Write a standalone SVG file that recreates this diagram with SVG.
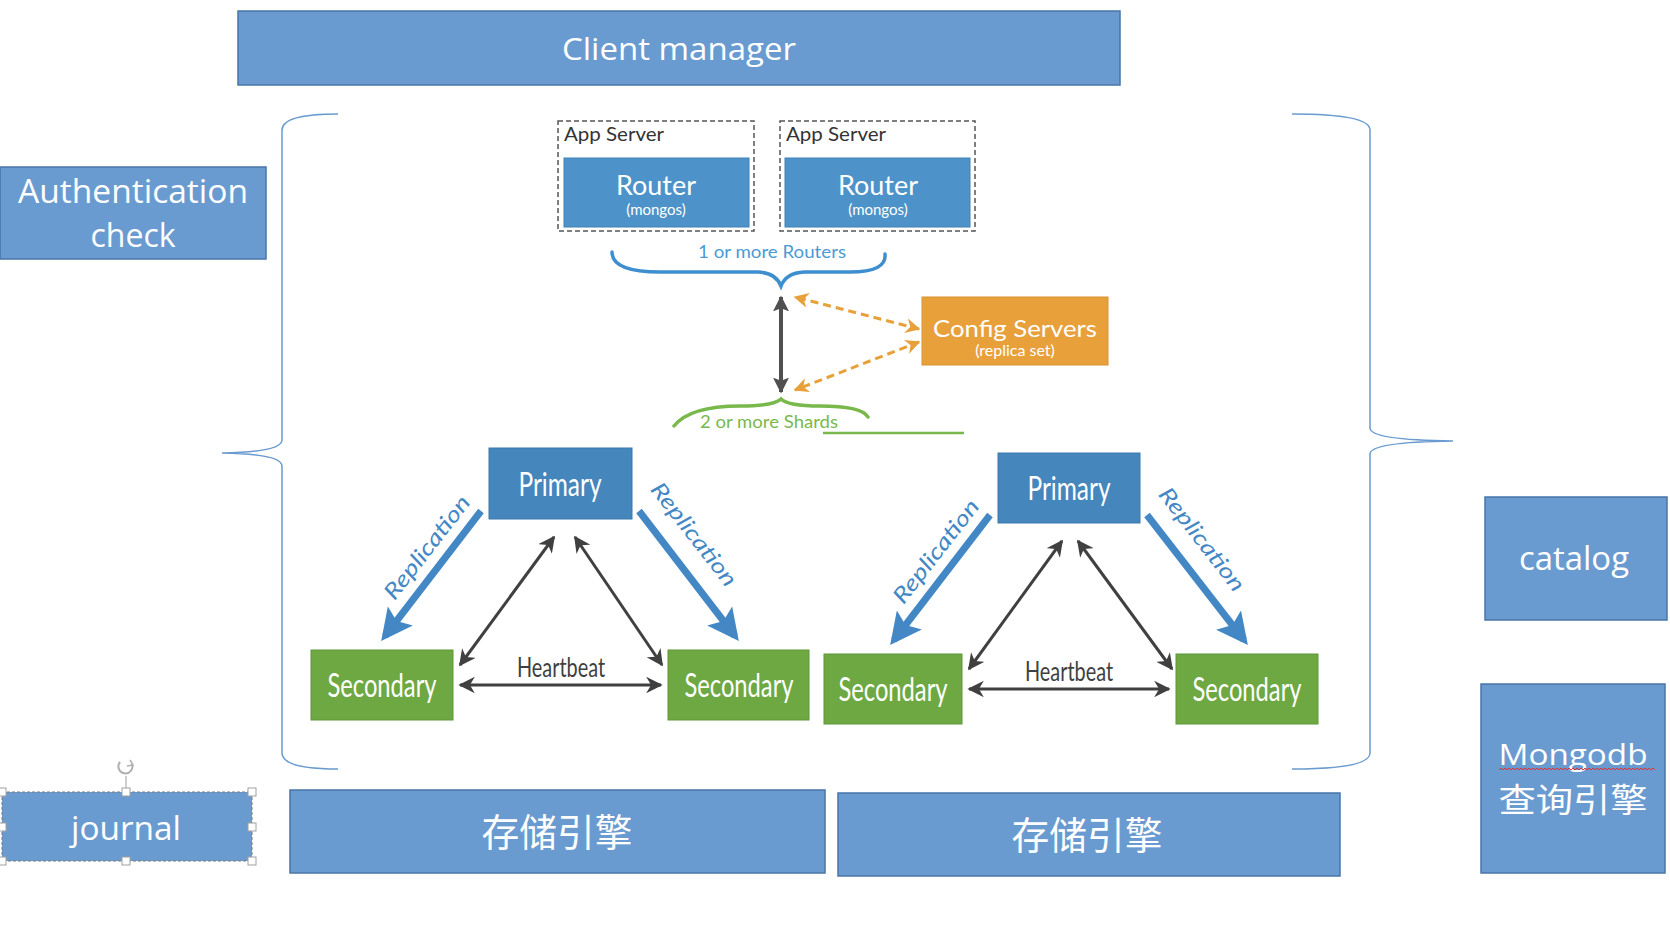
<svg xmlns="http://www.w3.org/2000/svg" width="1670" height="930" viewBox="0 0 1670 930">
<style>
.box{fill:#6a9bd0;stroke:#4a76a8;stroke-width:1.5}
.wt{fill:#fff;font-family:"Open Sans","Liberation Sans",sans-serif;text-anchor:middle}
.cjk{fill:#fff;font-family:"Noto Sans CJK SC",sans-serif;text-anchor:middle}
.gs{font-family:Lato,"Open Sans",sans-serif;text-anchor:middle}
.router{fill:#4d93c9;stroke:#3f82b8;stroke-width:1}
.prim{fill:#4586bd;stroke:#3a78ad;stroke-width:1}
.sec{fill:#6ea842;stroke:#5f9638;stroke-width:1}
.hb{stroke:#404040;stroke-width:3;fill:none;marker-start:url(#hbA);marker-end:url(#hbA)}
.rep{stroke:#4388c5;stroke-width:7;fill:none;marker-end:url(#repA)}
.reptxt{fill:#4388c5;font-family:Lato,"Open Sans",sans-serif;font-style:italic;font-size:22px;text-anchor:middle}
.cfg{stroke:#e8a13a;stroke-width:3;stroke-dasharray:8 5;fill:none;marker-start:url(#cfgA);marker-end:url(#cfgA)}
.brace{fill:none;stroke:#6a9bd0;stroke-width:1.5}
.handle{fill:#fff;stroke:#a0a0a0;stroke-width:1}
</style>
<defs>
<marker id="hbA" viewBox="0 0 10 10" refX="9" refY="5" markerWidth="5.5" markerHeight="5.5" orient="auto-start-reverse" markerUnits="strokeWidth"><path d="M0,0 L10,5 L0,10 L3,5 z" fill="#404040"/></marker>
<marker id="vA" viewBox="0 0 10 10" refX="9" refY="5" markerWidth="4" markerHeight="4" orient="auto-start-reverse" markerUnits="strokeWidth"><path d="M0,0 L10,5 L0,10 L2,5 z" fill="#505050"/></marker>
<marker id="repA" viewBox="0 0 10 10" refX="8" refY="5" markerWidth="4.5" markerHeight="4.5" orient="auto" markerUnits="strokeWidth"><path d="M0,0 L10,5 L0,10 L2,5 z" fill="#4388c5"/></marker>
<marker id="cfgA" viewBox="0 0 10 10" refX="9" refY="5" markerWidth="5" markerHeight="5" orient="auto-start-reverse" markerUnits="strokeWidth"><path d="M0,0 L10,5 L0,10 L3,5 z" fill="#e8a13a"/></marker>
</defs>
<rect width="1670" height="930" fill="#fff"/>

<g id="client-manager"><rect class="box" x="238" y="11" width="882" height="74"/><text class="wt" x="679" y="60" font-size="31" textLength="234" lengthAdjust="spacingAndGlyphs">Client manager</text></g>
<g id="auth-check"><rect class="box" x="0" y="167" width="266" height="92"/><text class="wt" x="133" y="203" font-size="32" textLength="230" lengthAdjust="spacingAndGlyphs">Authentication</text><text class="wt" x="133" y="247" font-size="32">check</text></g>

<g id="braces">
<path class="brace" d="M338,114 Q282,114 282,130 L282,440 Q282,452 222,453 Q282,454 282,466 L282,753 Q282,769 338,769"/>
<path class="brace" d="M1292,114 Q1370,114 1370,130 L1370,428 Q1370,440 1453,441 Q1370,442 1370,454 L1370,753 Q1370,769 1292,769"/>
</g>

<g id="app-server-1"><rect x="558" y="121" width="196" height="110" fill="none" stroke="#555" stroke-width="1.5" stroke-dasharray="5 3"/><text class="gs" x="564" y="141" font-size="20" fill="#333" textLength="100" lengthAdjust="spacingAndGlyphs" style="text-anchor:start">App Server</text></g>
<g id="router-1"><rect class="router" x="564" y="158" width="185" height="69"/><text class="gs" x="656" y="195" font-size="26" fill="#fff" textLength="80" lengthAdjust="spacingAndGlyphs">Router</text><text class="gs" x="656" y="215" font-size="15" fill="#fff">(mongos)</text></g>
<g id="app-server-2"><rect x="780" y="121" width="195" height="110" fill="none" stroke="#555" stroke-width="1.5" stroke-dasharray="5 3"/><text class="gs" x="786" y="141" font-size="20" fill="#333" textLength="100" lengthAdjust="spacingAndGlyphs" style="text-anchor:start">App Server</text></g>
<g id="router-2"><rect class="router" x="785" y="158" width="185" height="69"/><text class="gs" x="878" y="195" font-size="26" fill="#fff" textLength="80" lengthAdjust="spacingAndGlyphs">Router</text><text class="gs" x="878" y="215" font-size="15" fill="#fff">(mongos)</text></g>

<g id="routers-brace"><path d="M612,252 Q612,272 660,272 L758,272 Q776,273 781,286 Q786,273 804,272 L850,272 Q887,272 885,254" fill="none" stroke="#3e8fd0" stroke-width="3.5" stroke-linecap="round"/><text class="gs" x="772" y="258" font-size="17" fill="#4a9ad6" textLength="148" lengthAdjust="spacingAndGlyphs">1 or more Routers</text></g>

<g id="config-servers"><rect x="922" y="297" width="186" height="68" fill="#e8a13a" stroke="#d99230" stroke-width="1"/><text class="gs" x="1015" y="337" font-size="24" fill="#fff" textLength="164" lengthAdjust="spacingAndGlyphs">Config Servers</text><text class="gs" x="1015" y="356" font-size="16" fill="#fff">(replica set)</text></g>

<g id="shards-brace"><path d="M674,426 Q690,406 740,406 Q774,406 781,399 Q788,406 820,406 Q862,406 868,417" fill="none" stroke="#79b84b" stroke-width="3.5" stroke-linecap="round"/><text class="gs" x="769" y="428" font-size="17" fill="#79b84b" textLength="138" lengthAdjust="spacingAndGlyphs">2 or more Shards</text><path d="M823,433 L964,433" stroke="#79b84b" stroke-width="2.5"/></g>

<g id="primary-1"><rect class="prim" x="489" y="448" width="143" height="71"/><text class="gs" x="560" y="496" font-size="32" fill="#fff" textLength="83" lengthAdjust="spacingAndGlyphs">Primary</text></g>
<g id="secondary-1a"><rect class="sec" x="311" y="650" width="142" height="70"/><text class="gs" x="382" y="697" font-size="32" fill="#fff" textLength="109" lengthAdjust="spacingAndGlyphs">Secondary</text></g>
<g id="secondary-1b"><rect class="sec" x="668" y="650" width="141" height="70"/><text class="gs" x="739" y="697" font-size="32" fill="#fff" textLength="109" lengthAdjust="spacingAndGlyphs">Secondary</text></g>

<g id="primary-2"><rect class="prim" x="998" y="453" width="142" height="70"/><text class="gs" x="1069" y="500" font-size="32" fill="#fff" textLength="83" lengthAdjust="spacingAndGlyphs">Primary</text></g>
<g id="secondary-2a"><rect class="sec" x="824" y="654" width="138" height="70"/><text class="gs" x="893" y="701" font-size="32" fill="#fff" textLength="109" lengthAdjust="spacingAndGlyphs">Secondary</text></g>
<g id="secondary-2b"><rect class="sec" x="1176" y="654" width="142" height="70"/><text class="gs" x="1247" y="701" font-size="32" fill="#fff" textLength="109" lengthAdjust="spacingAndGlyphs">Secondary</text></g>

<g id="connectors">
<path d="M781,297 L781,392" stroke="#505050" stroke-width="4" fill="none" marker-start="url(#vA)" marker-end="url(#vA)"/>
<path class="cfg" d="M919,329 L795,297"/>
<path class="cfg" d="M919,342 L795,390"/>
<path class="hb" d="M460,685 L661,685"/>
<path class="hb" d="M460,665 L554,537"/>
<path class="hb" d="M575,537 L662,665"/>
<path class="rep" d="M481,511 L385,636"/>
<path class="rep" d="M639,511 L735,636"/>
<path class="hb" d="M969,689 L1169,689"/>
<path class="hb" d="M969,669 L1062,541"/>
<path class="hb" d="M1078,541 L1172,669"/>
<path class="rep" d="M990,515 L894,640"/>
<path class="rep" d="M1147,515 L1244,640"/>
<text class="gs" x="561" y="677" font-size="26" fill="#404040" textLength="88" lengthAdjust="spacingAndGlyphs">Heartbeat</text>
<text class="gs" x="1069" y="681" font-size="26" fill="#404040" textLength="88" lengthAdjust="spacingAndGlyphs">Heartbeat</text>
<text class="reptxt" transform="translate(433,552) rotate(-52)" textLength="125" lengthAdjust="spacingAndGlyphs">Replication</text>
<text class="reptxt" transform="translate(688,539) rotate(52)" textLength="125" lengthAdjust="spacingAndGlyphs">Replication</text>
<text class="reptxt" transform="translate(942,556) rotate(-52)" textLength="125" lengthAdjust="spacingAndGlyphs">Replication</text>
<text class="reptxt" transform="translate(1196,544) rotate(52)" textLength="125" lengthAdjust="spacingAndGlyphs">Replication</text>
</g>

<g id="journal"><rect x="2" y="792" width="250" height="69" fill="#6a9bd0" stroke="#7a7a7a" stroke-width="1" stroke-dasharray="3 2"/><text class="wt" x="126" y="840" font-size="32" textLength="110" lengthAdjust="spacingAndGlyphs">journal</text>
<path d="M126,792 L126,776" stroke="#a0a0a0" stroke-width="1"/>
<path d="M120,762 A7,7 0 1 0 132,764" fill="none" stroke="#b0b0b0" stroke-width="2"/><path d="M130,760 L133,765 L127,766" fill="none" stroke="#b0b0b0" stroke-width="1.5"/>
<rect class="handle" x="-2" y="788" width="8" height="8"/><rect class="handle" x="122" y="788" width="8" height="8"/><rect class="handle" x="248" y="788" width="8" height="8"/>
<rect class="handle" x="-2" y="823" width="8" height="8"/><rect class="handle" x="248" y="823" width="8" height="8"/>
<rect class="handle" x="-2" y="857" width="8" height="8"/><rect class="handle" x="122" y="857" width="8" height="8"/><rect class="handle" x="248" y="857" width="8" height="8"/>
</g>
<g id="storage-1"><rect class="box" x="290" y="790" width="535" height="83"/><text class="cjk" x="557" y="846" font-size="38" textLength="151" lengthAdjust="spacingAndGlyphs">存储引擎</text></g>
<g id="storage-2"><rect class="box" x="838" y="793" width="502" height="83"/><text class="cjk" x="1087" y="849" font-size="38" textLength="151" lengthAdjust="spacingAndGlyphs">存储引擎</text></g>
<g id="catalog"><rect class="box" x="1485" y="497" width="182" height="123"/><text class="wt" x="1574" y="570" font-size="32" textLength="110" lengthAdjust="spacingAndGlyphs">catalog</text></g>
<g id="query-engine"><rect class="box" x="1481" y="684" width="184" height="189"/><text class="wt" x="1573" y="765" font-size="30" textLength="149" lengthAdjust="spacingAndGlyphs">Mongodb</text>
<path d="M1499,770 l2,-2 l2,2 l2,-2 l2,2 l2,-2 l2,2 l2,-2 l2,2 l2,-2 l2,2 l2,-2 l2,2 l2,-2 l2,2 l2,-2 l2,2 l2,-2 l2,2 l2,-2 l2,2 l2,-2 l2,2 l2,-2 l2,2 l2,-2 l2,2 l2,-2 l2,2 l2,-2 l2,2 l2,-2 l2,2 l2,-2 l2,2 l2,-2 l2,2 l2,-2 l2,2 l2,-2 l2,2 l2,-2 l2,2 l2,-2 l2,2 l2,-2 l2,2 l2,-2 l2,2 l2,-2 l2,2 l2,-2 l2,2 l2,-2 l2,2 l2,-2 l2,2 l2,-2 l2,2 l2,-2 l2,2 l2,-2 l2,2 l2,-2 l2,2 l2,-2 l2,2 l2,-2 l2,2 l2,-2 l2,2 l2,-2 l2,2 l2,-2 l2,2 l2,-2 l2,2 l2,-2 l2,2" fill="none" stroke="#e03030" stroke-width="1"/>
<text class="cjk" x="1573" y="812" font-size="33" textLength="149" lengthAdjust="spacingAndGlyphs">查询引擎</text></g>
</svg>
